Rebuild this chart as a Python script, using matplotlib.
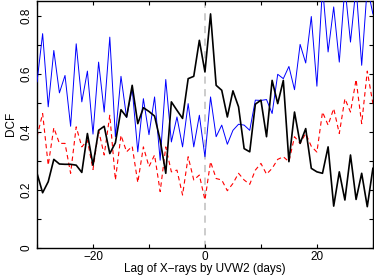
import matplotlib
matplotlib.use('Agg')
import matplotlib.pyplot as plt
import numpy as np

plt.rcParams['font.family'] = ['Liberation Sans', 'DejaVu Sans']

lags = list(range(-30, 31))

dcf_black = [0.257, 0.19, 0.228, 0.305, 0.289, 0.288, 0.288, 0.285, 0.26, 0.394,
             0.285, 0.405, 0.419, 0.325, 0.362, 0.476, 0.451, 0.56, 0.428, 0.483,
             0.47, 0.454, 0.371, 0.257, 0.503, 0.474, 0.446, 0.583, 0.591, 0.715,
             0.606, 0.806, 0.56, 0.543, 0.451, 0.541, 0.486, 0.342, 0.331, 0.495,
             0.509, 0.383, 0.577, 0.497, 0.577, 0.297, 0.468, 0.36, 0.411, 0.274,
             0.262, 0.257, 0.348, 0.144, 0.262, 0.165, 0.32, 0.167, 0.257, 0.142,
             0.274]

dcf_blue = [0.572, 0.738, 0.486, 0.68, 0.534, 0.594, 0.419, 0.703, 0.503, 0.609,
            0.392, 0.64, 0.468, 0.726, 0.383, 0.591, 0.449, 0.549, 0.331, 0.514,
            0.39, 0.52, 0.302, 0.58, 0.365, 0.451, 0.348, 0.497, 0.348, 0.457,
            0.314, 0.52, 0.383, 0.423, 0.357, 0.405, 0.426, 0.423, 0.405, 0.509,
            0.508, 0.511, 0.463, 0.598, 0.583, 0.625, 0.545, 0.701, 0.637, 0.797,
            0.557, 0.9, 0.675, 0.83, 0.64, 0.9, 0.709, 0.9, 0.629, 0.9,
            0.806]

dcf_red = [0.383, 0.463, 0.285, 0.414, 0.36, 0.36, 0.257, 0.417, 0.348, 0.371,
           0.27, 0.405, 0.32, 0.457, 0.234, 0.388, 0.331, 0.35, 0.225, 0.348,
           0.28, 0.32, 0.194, 0.348, 0.262, 0.268, 0.182, 0.314, 0.234, 0.251,
           0.165, 0.297, 0.239, 0.234, 0.197, 0.222, 0.257, 0.234, 0.219, 0.268,
           0.291, 0.254, 0.274, 0.305, 0.314, 0.297, 0.383, 0.36, 0.394, 0.35,
           0.33, 0.468, 0.423, 0.48, 0.394, 0.514, 0.468, 0.58, 0.428, 0.609,
           0.497]

fig = plt.figure(figsize=(3.74, 2.77), dpi=100)
ax = fig.add_axes([0.099, 0.105, 0.898, 0.893])

ax.axvline(0, color='#c8c8c8', lw=1.3, ls=(0, (4, 3)), zorder=1)
ax.plot(lags, dcf_red, color='#ff0000', lw=0.8, ls=(0, (4, 3)), zorder=2)
ax.plot(lags, dcf_blue, color='#0000ff', lw=0.7, zorder=3)
ax.plot(lags, dcf_black, color='black', lw=1.2, zorder=4)

ax.set_xlim(-30, 30)
ax.set_ylim(0, 0.852)
ax.set_xticks([-20, 0, 20])
ax.set_xticks([-30, -10, 10, 30], minor=True)
ax.set_yticks([0, 0.2, 0.4, 0.6, 0.8])
ax.set_yticklabels(['0', '0.2', '0.4', '0.6', '0.8'], rotation=90, va='center')
ax.set_yticks([0.1, 0.3, 0.5, 0.7], minor=True)
ax.tick_params(which='both', direction='in', top=True, right=True,
               length=3, width=0.8, labelsize=8.5)
ax.tick_params(axis='x', pad=2.5)
ax.tick_params(axis='y', pad=3)

for s in ax.spines.values():
    s.set_linewidth(1.0)

ax.set_xlabel('Lag of X\u2212rays by UVW2 (days)', fontsize=8.5, labelpad=0)
ax.set_ylabel('DCF', fontsize=8.5, labelpad=3)

fig.savefig('out.png', dpi=100)
